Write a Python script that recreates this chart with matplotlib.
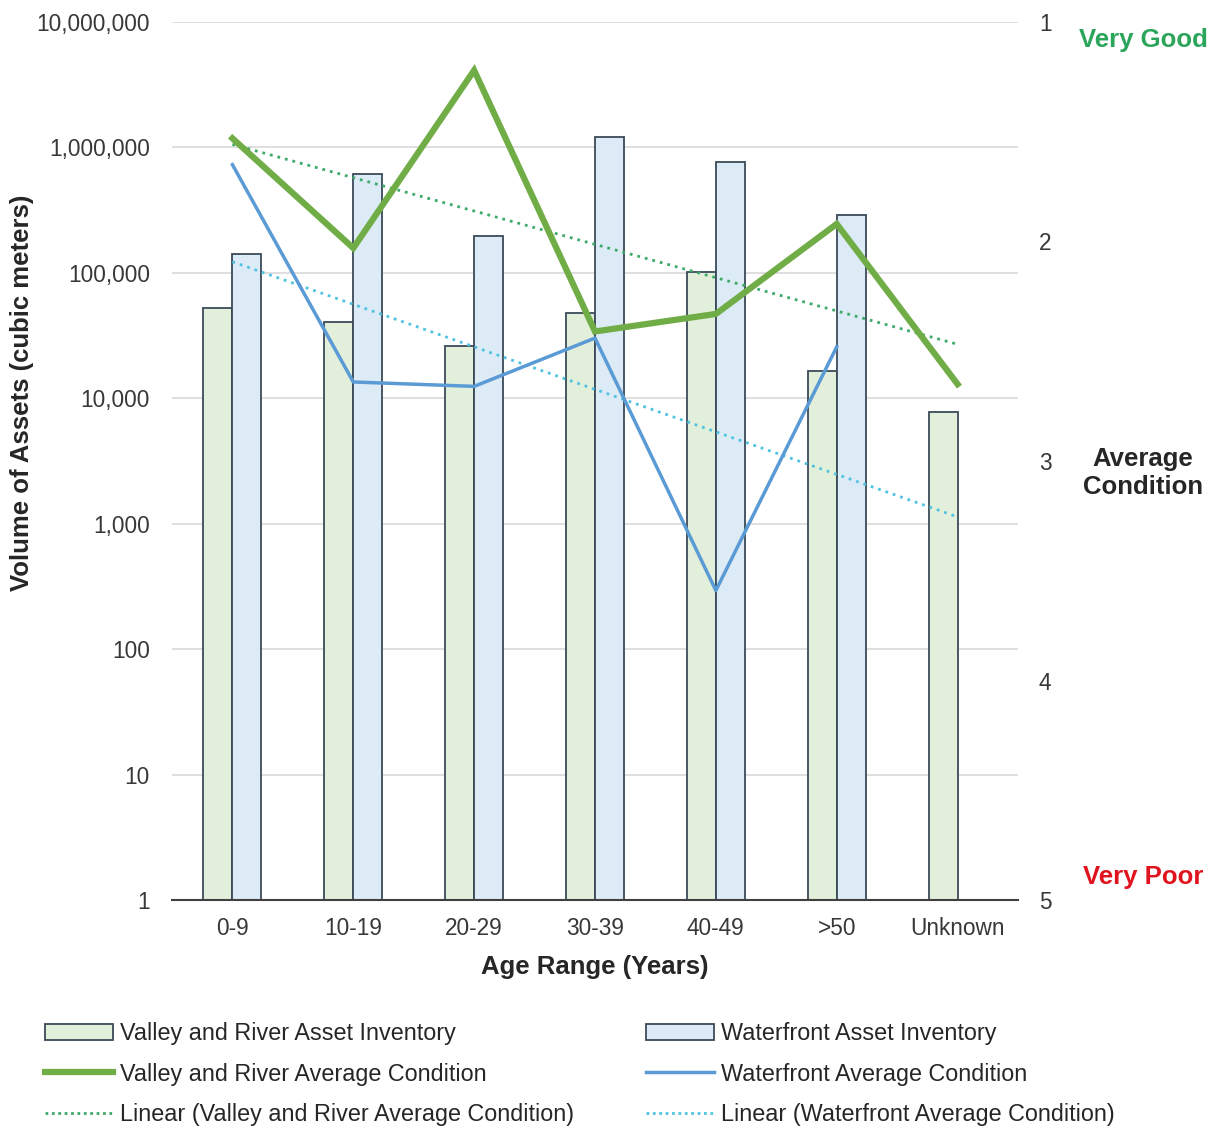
import numpy as np
import matplotlib
matplotlib.use("Agg")
import matplotlib.pyplot as plt
from matplotlib.patches import Patch
from matplotlib.lines import Line2D
from matplotlib.ticker import FixedLocator, FuncFormatter, NullLocator

plt.rcParams['font.family'] = ['Liberation Sans', 'DejaVu Sans']

# Age ranges on the category axis
categories = ["0-9", "10-19", "20-29", "30-39", "40-49", ">50", "Unknown"]

# Asset inventory volumes (cubic meters)
valley_volume = [52000, 40500, 26000, 48000, 102000, 16500, 7800]
waterfront_volume = [142000, 615000, 197000, 1215000, 770000, 290000, np.nan]

# Average condition ratings (1 = very good, 5 = very poor)
valley_condition = [1.53, 2.03, 1.22, 2.41, 2.33, 1.92, 2.65]
waterfront_condition = [1.65, 2.64, 2.66, 2.44, 3.59, 2.48, np.nan]

left_ticks = [1, 10, 100, 1000, 10000, 100000, 1000000, 10000000]
right_ticks = [1, 2, 3, 4, 5]

GREEN_FILL = "#E2EFDA"
BLUE_FILL = "#DDEBF7"
BAR_EDGE = "#3B4A58"
GREEN_LINE = "#70AD47"
BLUE_LINE = "#5B9BD5"
GREEN_TREND = "#3DAA6A"
BLUE_TREND = "#4FC3E0"
TEXT = "#383838"

W, H = 1219, 1128
fig = plt.figure(figsize=(W / 100, H / 100), dpi=100)
ax = fig.add_axes([172 / W, 1 - 900 / H, 846 / W, 878 / H])

x = np.arange(len(categories))
bw = 0.24
ax.bar(x - bw / 2, valley_volume, width=bw, color=GREEN_FILL, edgecolor=BAR_EDGE,
       linewidth=1.3, zorder=2)
ax.bar(x + bw / 2, waterfront_volume, width=bw, color=BLUE_FILL, edgecolor=BAR_EDGE,
       linewidth=1.3, zorder=2)

ax.set_yscale("log")
ax.set_ylim(1, 10000000)
ax.set_xlim(-0.5, len(categories) - 0.5)
ax.yaxis.set_major_locator(FixedLocator(left_ticks))
ax.yaxis.set_minor_locator(NullLocator())
ax.yaxis.set_major_formatter(FuncFormatter(lambda v, p: f"{int(round(v)):,}"))
ax.grid(axis="y", color="#D9D9D9", linewidth=1.2, zorder=0)
ax.set_axisbelow(True)
ax.set_xticks(x)
ax.set_xticklabels(categories)
ax.tick_params(axis="both", length=0, labelsize=16.3, colors=TEXT)
ax.tick_params(axis="y", pad=16)
ax.tick_params(axis="x", pad=12)
for s in ["top", "right", "left"]:
    ax.spines[s].set_visible(False)
ax.spines["bottom"].set_color("#404040")
ax.spines["bottom"].set_linewidth(1.5)

fig.text(22 / W, 1 - 393 / H, "Volume of Assets (cubic meters)", fontsize=18.5,
         fontweight="bold", color="#262626", rotation=90, ha="center", va="center")
fig.text(595 / W, 1 - 967 / H, "Age Range (Years)", fontsize=18.5,
         fontweight="bold", color="#262626", ha="center", va="center")

# Condition on an inverted secondary axis
ax2 = ax.twinx()
ax2.set_ylim(5, 1)
ax2.set_yticks(right_ticks)
ax2.tick_params(axis="y", length=0, labelsize=16.3, colors=TEXT, pad=15)
for s in ax2.spines.values():
    s.set_visible(False)

ax2.plot(x, valley_condition, color=GREEN_LINE, linewidth=4.5, solid_joinstyle="miter",
         zorder=4)
wf = np.array(waterfront_condition)
m = ~np.isnan(wf)
ax2.plot(x[m], wf[m], color=BLUE_LINE, linewidth=2.5, zorder=4)

# Linear trendlines
vc = np.polyfit(x, valley_condition, 1)
wc = np.polyfit(x[m], wf[m], 1)
xs = np.array([0, len(categories) - 1])
ax2.plot(xs, np.polyval(vc, xs), color=GREEN_TREND, linewidth=2,
         linestyle=(0, (1, 1.8)), zorder=3)
ax2.plot(xs, np.polyval(wc, xs), color=BLUE_TREND, linewidth=2,
         linestyle=(0, (1, 1.8)), zorder=3)

# Condition scale annotations
fig.text(1143 / W, 1 - 40 / H, "Very Good", color="#2AA55A", fontsize=18.5,
         fontweight="bold", ha="center", va="center")
fig.text(1143 / W, 1 - 473 / H, "Average\nCondition", color="#262626",
         fontsize=18.5, fontweight="bold", ha="center", va="center", linespacing=1.2)
fig.text(1143 / W, 1 - 877 / H, "Very Poor", color="#E0141E", fontsize=18.5,
         fontweight="bold", ha="center", va="center")

handles = [
    Patch(facecolor=GREEN_FILL, edgecolor=BAR_EDGE, linewidth=1.3),
    Line2D([], [], color=GREEN_LINE, linewidth=4.5),
    Line2D([], [], color=GREEN_TREND, linewidth=2, linestyle=(0, (1, 1.3))),
    Patch(facecolor=BLUE_FILL, edgecolor=BAR_EDGE, linewidth=1.3),
    Line2D([], [], color=BLUE_LINE, linewidth=2.5),
    Line2D([], [], color=BLUE_TREND, linewidth=2, linestyle=(0, (1, 1.3))),
]
labels = [
    "Valley and River Asset Inventory",
    "Valley and River Average Condition",
    "Linear (Valley and River Average Condition)",
    "Waterfront Asset Inventory",
    "Waterfront Average Condition",
    "Linear (Waterfront Average Condition)",
]
fig.legend(handles, labels, loc="upper left", bbox_to_anchor=(45 / W, 1 - 1022 / H),
           ncol=2, frameon=False, fontsize=16.8, handlelength=2.9, handleheight=0.7,
           handletextpad=0.3, columnspacing=3.1, labelspacing=0.75,
           labelcolor="#262626", borderaxespad=0, borderpad=0)

fig.savefig("out.png", dpi=100, facecolor="white")
